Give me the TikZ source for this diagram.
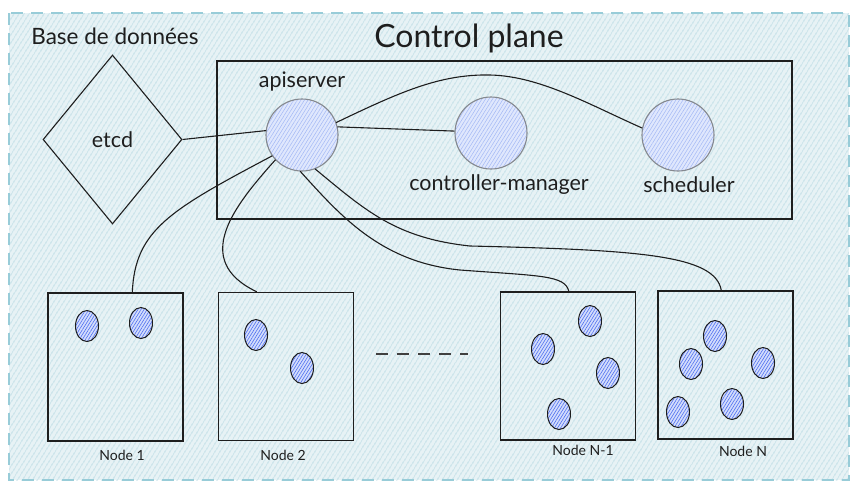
\documentclass[tikz,border=0pt]{standalone}
\usepackage{fontspec}
\setmainfont{Lato}
\usetikzlibrary{patterns.meta,shapes.geometric,calc}
\definecolor{bgfill}{HTML}{E7F2F5}
\definecolor{bgline}{HTML}{A8D2DE}
\definecolor{bgborder}{HTML}{98CCD8}
\definecolor{circbg}{HTML}{DFE7FD}
\definecolor{circline}{HTML}{A3B8F5}
\definecolor{circedge}{HTML}{85898F}
\definecolor{podbg}{HTML}{D3DDFC}
\definecolor{podline}{HTML}{4F6FF0}
\definecolor{ink}{HTML}{1E1E1E}
\begin{document}
\begin{tikzpicture}[x=1pt,y=-1pt,
  bgbox/.style={draw=bgborder,line width=1.2pt,dash pattern=on 12pt off 8pt,
    preaction={fill=bgfill},
    pattern={Lines[angle=58,distance=4pt,line width=0.6pt]},pattern color=bgline},
  compo/.style={circle,minimum size=72pt,inner sep=0pt,draw=circedge,line width=1.1pt,
    preaction={fill=circbg},pattern={Lines[angle=58,distance=3pt,line width=0.5pt]},pattern color=circline},
  pod/.style={ellipse,minimum width=23pt,minimum height=31pt,inner sep=0pt,draw=ink,line width=1pt,
    preaction={fill=podbg},pattern={Lines[angle=58,distance=2.6pt,line width=0.6pt]},pattern color=podline},
  nodebox/.style={rectangle,draw=ink,line width=1.4pt,minimum width=135pt,minimum height=148pt,inner sep=0pt},
  lbl/.style={text=ink,font=\fontsize{21.5}{24}\selectfont},
  nlbl/.style={text=ink,font=\fontsize{14}{16}\selectfont},
  link/.style={draw=ink,line width=1.1pt}
]
\useasboundingbox (0,0) rectangle (859,491);
\path[bgbox] (9,13) rectangle (849,480);

\node[text=ink,font=\fontsize{32}{36}\selectfont] (title) at (469,38) {Control plane};
\node[text=ink,font=\fontsize{22.5}{26}\selectfont] (dbtitle) at (115,36) {Base de données};

\node[rectangle,draw=ink,line width=1.3pt,minimum width=575pt,minimum height=158pt] (cp) at (504.5,140) {};

\node[diamond,draw=ink,line width=1.1pt,minimum width=139pt,minimum height=169pt,inner sep=0pt,lbl] (etcd) at (112.5,139.5) {etcd};

\node[compo] (api) at (302,135) {};
\node[lbl] (apil) at (302,81) {apiserver};
\node[compo] (cm) at (491,133) {};
\node[lbl] (cml) at (499,185) {controller-manager};
\node[compo] (sch) at (678,135) {};
\node[lbl] (schl) at (689,185) {scheduler};

\node[nodebox] (n1) at (115.5,367) {};
\node[nodebox] (n2) at (286,366.5) {};
\node[nodebox] (n3) at (568,366) {};
\node[nodebox] (n4) at (725.5,365) {};
\node[nlbl] (n1l) at (122,455) {Node 1};
\node[nlbl] (n2l) at (283,455) {Node 2};
\node[nlbl] (n3l) at (583,450) {Node N-1};
\node[nlbl] (n4l) at (743,451) {Node N};

\node[pod] (p11) at (87,326) {};
\node[pod] (p12) at (141,323) {};
\node[pod] (p21) at (256,335) {};
\node[pod] (p22) at (302,368) {};
\node[pod] (p31) at (590,321) {};
\node[pod] (p32) at (543,349) {};
\node[pod] (p33) at (608,373) {};
\node[pod] (p34) at (559,414) {};
\node[pod] (p41) at (715,336) {};
\node[pod] (p42) at (691,364) {};
\node[pod] (p43) at (763,363) {};
\node[pod] (p44) at (678,412) {};
\node[pod] (p45) at (732,404) {};

\coordinate (dashA) at (376,354);
\coordinate (dashB) at (468,354);
\draw[draw=ink!85,line width=1.3pt,dash pattern=on 12pt off 9pt] (dashA) -- (dashB);

\path[link] (etcd.east) -- (api.173);
\path[link] (api.13) -- (cm.177);
\path[link] (api.20) .. controls (400,92) and (440,74) .. (490,75)
  .. controls (540,76) and (590,105) .. (sch.169);
\path[link] (api.215) .. controls (170,210) and (135,230) .. ([xshift=85pt]n1.north west);
\path[link] (api.223) .. controls (235,205) and (190,260) .. ([xshift=39pt]n2.north west);
\path[link] (api.267) .. controls (340,215) and (380,262) .. (460,270)
  .. controls (540,276) and (565,275) .. ([xshift=69pt]n3.north west);
\path[link] (api.291) .. controls (365,210) and (395,238) .. (470,246)
  .. controls (640,250) and (715,255) .. ([xshift=64pt]n4.north west);
\end{tikzpicture}
\end{document}
